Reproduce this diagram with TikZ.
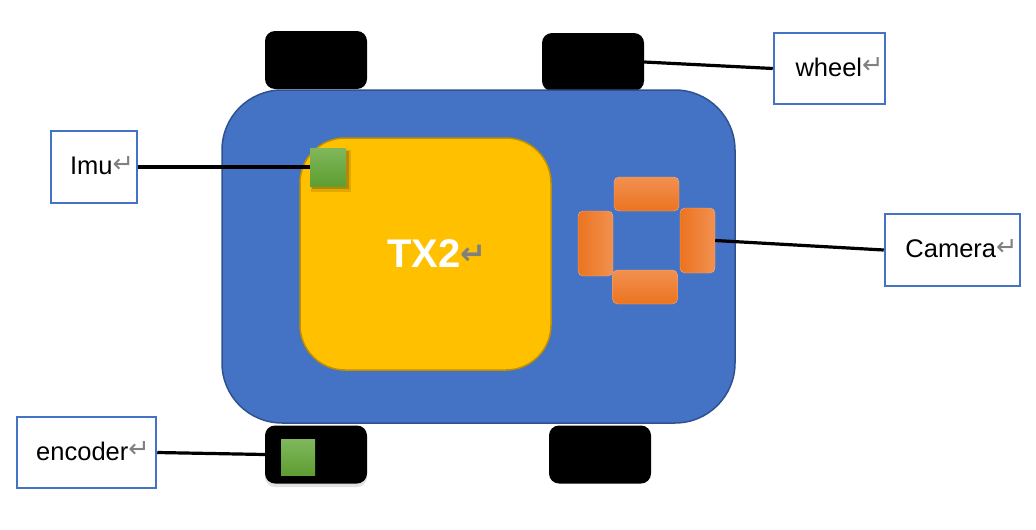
\documentclass[tikz,border=0pt]{standalone}
\usepackage{fontspec}
\setmainfont{Liberation Sans}
\newfontfamily\symfont{DejaVu Sans}
\definecolor{bodyblue}{HTML}{4472C4}
\definecolor{bodyedge}{HTML}{2F528F}
\definecolor{tyellow}{HTML}{FFC000}
\definecolor{tedge}{HTML}{BF9000}
\definecolor{glight}{HTML}{80B75C}
\definecolor{gdark}{HTML}{5E9E32}
\definecolor{olight}{HTML}{F29050}
\definecolor{odark}{HTML}{EB7420}
\definecolor{retgray}{HTML}{808080}
\newcommand{\ret}{{\symfont\color{retgray}\raisebox{0.1em}{↵}}}
\newcommand{\labtext}[2]{\raisebox{3pt}{\hspace*{#1}#2\ret}}
\tikzset{
  wheelbox/.style={fill=black, rounded corners=10pt, minimum width=102pt, minimum height=58pt, inner sep=0pt},
  labelbox/.style={draw=bodyblue, line width=2.5pt, fill=white, inner sep=0pt, font=\fontsize{25.5}{25.5}\selectfont},
  greensq/.style={top color=glight, bottom color=gdark, draw=none, inner sep=0pt},
  camh/.style={top color=olight, bottom color=odark, draw=olight!70!white, line width=0.4pt, rounded corners=5pt, minimum width=65pt, minimum height=34pt, inner sep=0pt},
  camv/.style={draw=olight!70!white, line width=0.4pt, rounded corners=5pt, minimum width=35pt, minimum height=65pt, inner sep=0pt},
  link/.style={black, line width=3.2pt}
}
\begin{document}
\begin{tikzpicture}[x=1pt,y=-1pt]
\useasboundingbox (0,0) rectangle (1036,530);
% wheels
\node[wheelbox] (wTL) at (316,60) {};
\node[wheelbox] (wTR) at (593,62) {};
\node[wheelbox, fill=black!80, opacity=0.15] at (316,458) {};
\node[wheelbox] (wBL) at (316,454.5) {};
\node[wheelbox] (wBR) at (600,454.5) {};
% body
\node[fill=bodyblue, draw=bodyedge, line width=1.5pt, rounded corners=60pt, minimum width=513pt, minimum height=333pt, inner sep=0pt] (body) at (478.5,256.5) {};
% TX2 board
\node[fill=tyellow, draw=tedge, line width=1.5pt, rounded corners=45pt, minimum width=251pt, minimum height=232pt, inner sep=0pt] (tx2) at (425.5,254) {};
\node[text=white, font=\bfseries\fontsize{40}{40}\selectfont, inner sep=0pt] (tx2label) at (437,254) {TX2{\fontsize{31}{31}\selectfont\ret}};
% IMU square with shadow
\fill[black, opacity=0.12] (311,150) rectangle (351,192);
\fill[black, opacity=0.18] (312,151) rectangle (349,189);
\node[greensq, minimum width=36pt, minimum height=38pt] (imusq) at (328,167) {};
% camera
\node[camh] (camT) at (646.5,194) {};
\node[camv, left color=odark, right color=olight] (camL) at (595.5,243.5) {};
\node[camv, left color=odark, right color=olight] (camR) at (697.5,240.5) {};
\node[camh] (camB) at (645,287) {};
% encoder square
\node[greensq, minimum width=34pt, minimum height=36pt] (encsq) at (298,457) {};
% labels
\node[labelbox, minimum width=86pt, minimum height=72pt] (imulab) at (94,167) {\labtext{16pt}{Imu}};
\node[labelbox, minimum width=111pt, minimum height=71pt] (wheellab) at (829.5,68.5) {\labtext{20pt}{wheel}};
\node[labelbox, minimum width=135pt, minimum height=72pt] (camlab) at (952.5,250) {\labtext{18pt}{Camera}};
\node[labelbox, minimum width=139pt, minimum height=71pt] (enclab) at (86.5,452.5) {\labtext{13pt}{encoder}};
% connectors
\draw[link] (imulab.east) -- (imusq.west);
\draw[link] (wheellab.west) -- (wTR.east);
\draw[link] (camlab.west) -- (camR.east);
\draw[link] (enclab.east) -- (wBL.west);
\end{tikzpicture}
\end{document}
